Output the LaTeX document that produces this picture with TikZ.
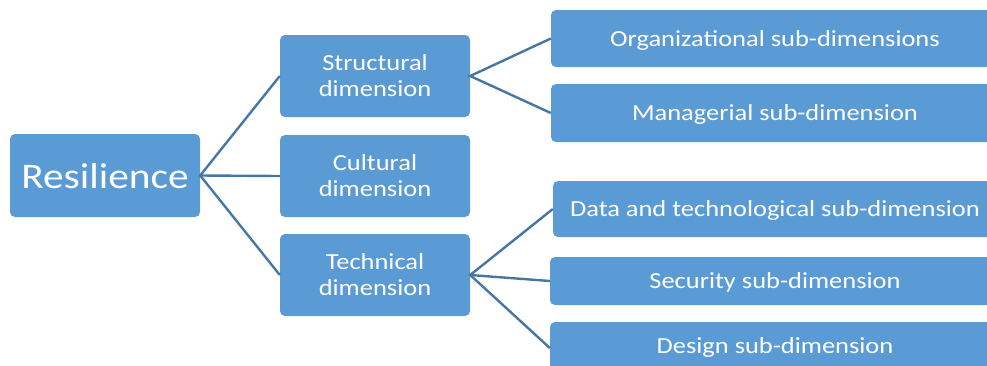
\documentclass[tikz,border=0pt]{standalone}
\usepackage{fontspec}
\setmainfont{Carlito}[FakeStretch=1.15]
\usetikzlibrary{positioning}

\definecolor{boxblue}{RGB}{91,155,213}
\definecolor{lineblue}{RGB}{70,118,165}

\tikzset{
  box/.style={rectangle, rounded corners=5pt, fill=boxblue, text=white,
    inner sep=0pt, align=center, font=\fontsize{23}{26}\selectfont},
  dim/.style={box, minimum width=190pt, minimum height=82pt},
  sub/.style={box, minimum width=448pt, text depth=0pt},
  link/.style={draw=lineblue, line width=2.4pt}
}

\begin{document}
\begin{tikzpicture}[x=1pt,y=-1pt]
\useasboundingbox (0,0) rectangle (987,365);

\node[box, minimum width=190pt, minimum height=83pt, text depth=0pt,
  font=\fontsize{36}{40}\selectfont] (res) at (105,175.5){Resilience};
\node[dim] (str) at (375,76){Structural\\dimension};
\node[dim] (cul) at (375,176){Cultural\\dimension};
\node[dim] (tec) at (375,275){Technical\\dimension};
\node[sub, minimum height=57pt] (org) at (775,38.5){Organizational sub-dimensions};
\node[sub, minimum height=58pt] (man) at (775,113){Managerial sub-dimension};
\node[sub, minimum width=444pt, minimum height=56pt] (dat) at (775,209){Data and technological sub-dimension};
\node[sub, minimum width=450pt, minimum height=48pt] (sec) at (775,281){Security sub-dimension};
\node[sub, minimum width=450pt, minimum height=48pt] (des) at (775,346){Design sub-dimension};

\draw[link] (str.west) -- (res.east) -- (tec.west);
\draw[link] (res.east) -- (cul.west);
\draw[link] (org.west) -- (str.east) -- (man.west);
\draw[link] (dat.west) -- (tec.east) -- ([yshift=-2pt]des.west);
\draw[link] (tec.east) -- (sec.west);

\end{tikzpicture}
\end{document}
